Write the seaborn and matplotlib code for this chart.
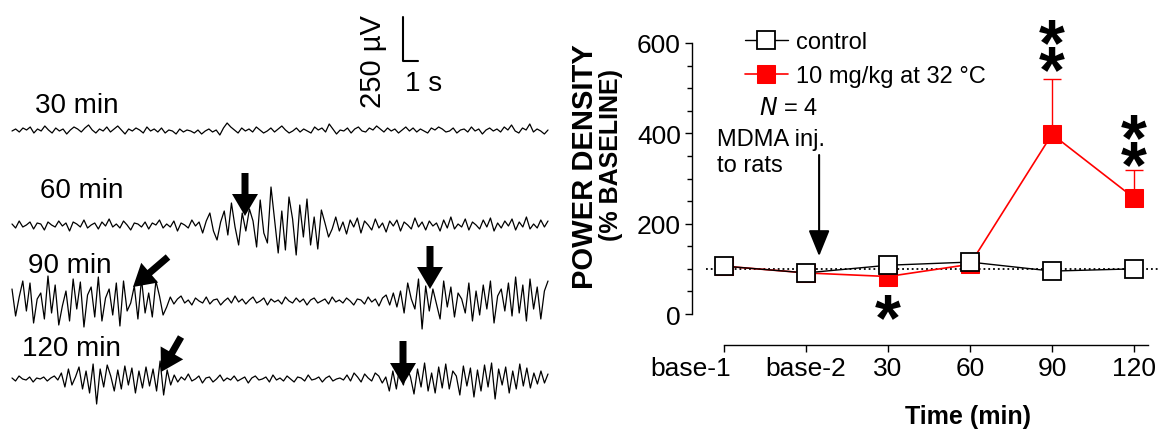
import numpy as np
import matplotlib
matplotlib.use('Agg')
import matplotlib.pyplot as plt
import matplotlib.transforms as mtransforms
import seaborn as sns

# EEG traces (amplitude in pixels, up = positive)
trace_30 = [0, 2, -1, 3, 1, 4, -2, 2, 0, 5, 1, -2, 3, 0, 2, -3, 1, 4, 2, -1,
            3, 6, 1, -2, 2, 0, 4, -1, 2, 5, 1, -3, 2, 0, 3, 1, -2, 4, 0, 2,
            -1, 3, -2, 1, 0, -3, 2, -1, 1, 0, -2, 1, -3, 0, 2, -1, 1, -4, 3, 8,
            4, 1, -2, 3, 0, 2, -1, 4, 1, -2, 0, 3, -1, 2, 5, 1, -2, 0, 3, -1,
            2, 0, -2, 4, 1, 3, -1, 7, 2, -3, 1, 0, 3, -2, 2, 4, 0, -1, 3, 1,
            5, 2, -1, 3, 0, 2, -2, 1, 4, 0, 3, -1, 2, 0, -2, 3, 1, 4, 2, -1,
            0, 3, -2, 1, 2, -1, 4, 0, 2, -3, 1, 3, 0, 2, -1, 4, 1, 6, 0, -2,
            3, 1, 7, -1, 2, 0, -3, 1]
trace_60 = [1, -3, 4, -2, 0, 3, -4, 2, 1, -5, 3, 0, -2, 4, -1, 2, -6, 3, 1, -2,
            5, -3, 0, 2, -4, 3, -1, 6, -2, 1, -3, 4, 0, -5, 2, 1, -2, 3, -4, 2,
            0, 5, -3, 1, -2, 4, -6, 2, 0, -3, 5, -1, 3,
            -8, 4, 12, -6, -15, 3, 14, -10, 22, -2, -20, 12, -6, 16, 4, -22,
            25, -8, -18, 38, 5, -28, 14, -25, 28, 6, -30, 20, -12, 26, -20, 8,
            -24, 15, 2, -12,
            -4, 8, -6, 3, -9, 5, -2, 7, -8, 4, 0, -5, 6, -3, 2, -7, 4, -1, 5, -6,
            3, 0, -4, 7, -2, 3, -5, 4, -1, 2, -6, 5, -3, 8, -4, 1, -2, 6, -5, 3,
            0, -4, 5, -2, 7, -6, 2, -3, 4, -1, 6, -5, 3, -2, 8, -4, 1, -3, 5, -2, 4]
trace_90 = [12, -15, 4, 20, -10, 18, -22, 2, 8, -18, 25, -12, 16, -24, -5, 10,
            -20, 22, -8, 19, -26, 6, 14, -16, 24, -20, 3, 12, -14, 18, -25, 20,
            -10, -2, 15, -18, 22, -12, 8, -16, 20, 5, -14,
            -6, 4, -3, 2, 5, -2, 1, -4, 3, 0, -2, 4, -3, 1, 2, -4, 0, 3, -2, 5,
            -1, 2, -3, 1, 4, -2, 0, 3, -4, 2, -1, 1, -3, 4, 0, -2, 3, -1, 2, -4,
            1, 3, -2, 0, 2, -3, 4, -1, 1, -2, 3, 0, -4, 2, 1, -3, 4, -1, 2, -5,
            3, 6, -4, 8, -6,
            10, -12, 18, 2, -8, 22, -28, 15, -10, 12, -3, -18, 20, -6, 14, -16,
            8, 2, -12, 18, -20, 10, -14, 16, -8, 20, -22, 5, 12, -10, 18, -15,
            24, -12, 16, -20, 22, -8, 14, -18, 10, 20]
trace_120 = [1, -2, 3, 0, -1, 2, -3, 1, 0, 2, -2, 1, 3, -1,
             6, -8, 10, -6, 2, 12, -10, 8, -14, 15, -25, 10, -8, 14, 3, -12, 9,
             -10, 13, -6, 11, -14, 8, -9, 12, -7, 10, -12, 18, -16, 9, -6,
             4, -3, 2, -1, 5, -2, 0, 3, -4, 1, 2, -3, 0, 4, -2, 1, -1, 3, -2, 0,
             2, -4, 1, 3, -1, 0, 2, -3, 4, -1, 1, -2, 3, 0, -3, 2, 1, -2, 4, -1,
             0, 2, -3, 1, 3, -2, 0, 1, -1, 4, -2, 6, 2, -3, 5, 1, -2, 6, 3, -4,
             2, -12,
             8, -10, 14, -6, 12, 2, -15, 10, -8, 16, -12, 6, -14, 12, -9, 15,
             -10, 8, 3, -16, 13, -7, 11, -18, 9, -12, 14, -8, 16, -20, 10, -6,
             12, -14, 8, -10, 15, -7, 11, -9, 6, -5, 8, -4, 5]
trace_labels = ['30 min', '60 min', '90 min', '120 min']

# power density (% baseline)
time_labels = ['base-1', 'base-2', '30', '60', '90', '120']
control = [106, 91, 108, 115, 95, 100]
mdma = [106, 91, 83, 110, 398, 257]
mdma_sem = [4, 5, 6, 8, 122, 62]

W, H = 1160, 439
sns.set_theme(style='ticks')
plt.rcParams['font.family'] = ['Liberation Sans', 'DejaVu Sans']
plt.rcParams.update({'text.color': 'black', 'axes.labelcolor': 'black',
                     'xtick.color': 'black', 'ytick.color': 'black'})

fig = plt.figure(figsize=(W / 100, H / 100), dpi=100)

# ---- left panel: EEG traces (axes units = pixels) ----
axl = fig.add_axes([0, 0, 560 / W, 1])
axl.set_xlim(0, 560)
axl.set_ylim(H, 0)
axl.axis('off')

traces = [trace_30, trace_60, trace_90, trace_120]
baselines = [132, 226, 302, 380]
label_pos = [(35, 106), (40, 191), (28, 266), (22, 349)]
for tr, base, lab, (lx, ly) in zip(traces, baselines, trace_labels, label_pos):
    xs = np.linspace(12, 548, len(tr))
    sns.lineplot(x=xs, y=base - np.array(tr), ax=axl, color='black', lw=0.9,
                 estimator=None, sort=False)
    axl.text(lx, ly, lab, fontsize=20, ha='left', va='center')

# arrows (tail x, tail y, tip x, tip y)
arrows = [(245, 174, 245, 217), (430, 247, 430, 290), (168, 258, 133, 288),
          (403, 342, 403, 386), (181, 338, 161, 373)]
for x0, y0, x1, y1 in arrows:
    axl.arrow(x0, y0, x1 - x0, y1 - y0, width=7, head_width=26, head_length=22,
              length_includes_head=True, color='black', lw=0)

# scale bar
bar_x, bar_y, bar_v, bar_t = 403, 62, 44, 15
axl.plot([bar_x, bar_x, bar_x + bar_t], [bar_y - bar_v, bar_y, bar_y],
         color='black', lw=1.5)
axl.text(373, 62, '250 µV', rotation=90, fontsize=21, ha='center', va='center')
axl.text(405, 84, '1 s', fontsize=20, ha='left', va='center')

# ---- right panel: power density ----
ax = fig.add_axes([692 / W, 1 - 346 / H, (W - 692) / W, 346 / H])
pos = np.arange(len(time_labels))
ax.set_xlim(-0.39, 5.317)
ax.set_ylim(-68.6, 697.4)

ax.axhline(100, xmin=0.03, xmax=1, color='black', ls=':', lw=1.3, zorder=1)
ax.errorbar(pos, mdma, yerr=[np.zeros(len(mdma)), mdma_sem], fmt='none',
            ecolor='red', elinewidth=1, capsize=6.5, capthick=1, zorder=2)
sns.lineplot(x=pos, y=mdma, ax=ax, color='red', lw=1.2, marker='s',
             markersize=13.5, markerfacecolor='red', markeredgecolor='red',
             label='10 mg/kg at 32 °C', zorder=3)
sns.lineplot(x=pos, y=control, ax=ax, color='black', lw=1.0, marker='s',
             markersize=13.5, markerfacecolor='white', markeredgecolor='black',
             markeredgewidth=1.3, label='control', zorder=4)

handles, labels = ax.get_legend_handles_labels()
ax.legend(handles[::-1], labels[::-1], loc='upper left',
          bbox_to_anchor=(745 / W, 1 - 32 / H), bbox_transform=fig.transFigure,
          frameon=False, fontsize=17, handlelength=1.8, handletextpad=0.35,
          labelspacing=0.5, borderpad=0, borderaxespad=0)

sns.despine(ax=ax, top=True, right=True)
ax.spines['left'].set_bounds(0, 600)
ax.spines['bottom'].set_bounds(0, 5.17)
for s in ['left', 'bottom']:
    ax.spines[s].set_linewidth(1.0)
    ax.spines[s].set_color('black')
ax.set_yticks([0, 200, 400, 600])
ax.set_yticks(np.arange(50, 600, 50), minor=True)
ax.set_xticks(pos)
ax.set_xticklabels(time_labels)
ax.tick_params(axis='both', which='major', labelsize=19, length=5, width=1,
               color='black', pad=3)
ax.tick_params(axis='y', which='minor', length=3.5, width=1, color='black', left=True)
ax.tick_params(axis='x', which='minor', bottom=False)
# base-1 label sits left of its tick in the original
first = ax.get_xticklabels()[0]
first.set_transform(first.get_transform() +
                    mtransforms.ScaledTranslation(-0.33, 0, fig.dpi_scale_trans))

# annotations
ax.text(0.43, 456, r'$\it{N}$ = 4', fontsize=17, ha='left', va='center')
ax.text(-0.08, 359, 'MDMA inj.\nto rats', fontsize=17, ha='left', va='center',
        linespacing=1.2)
ax.annotate('', xy=(1.16, 128), xytext=(1.16, 352),
            arrowprops=dict(arrowstyle='-|>,head_width=0.65,head_length=1.6',
                            lw=1.5, color='black', shrinkA=0, shrinkB=0,
                            mutation_scale=10))
# significance stars: (x position, anchor value, text)
stars = [(2, -18, '*'), (4, 561, '*\n*'), (5, 351, '*\n*')]
for xi, yv, s in stars:
    ax.text(xi, yv, s, fontsize=48, fontweight='bold', ha='center',
            va='center', linespacing=0.28)

fig.text(585 / W, 1 - 167 / H, 'POWER DENSITY', rotation=90, fontsize=21,
         fontweight='bold', ha='center', va='center')
fig.text(611 / W, 1 - 155 / H, '(% BASELINE)', rotation=90, fontsize=18,
         fontweight='bold', ha='center', va='center')
fig.text(968 / W, 1 - 417 / H, 'Time (min)', fontsize=18, fontweight='bold',
         ha='center', va='center')

fig.savefig('out.png', dpi=100)
